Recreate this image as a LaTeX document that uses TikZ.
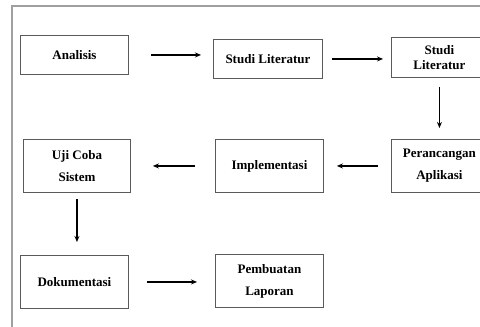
\documentclass[tikz,border=0pt]{standalone}
\usepackage{fontspec}
\setmainfont{Liberation Serif}
\usetikzlibrary{arrows.meta}
\definecolor{boxline}{HTML}{5A5A5A}
\definecolor{frameline}{HTML}{A0A0A0}
\tikzset{
  px/.style={x=1pt,y=-1pt},
  stepbox/.style={draw=boxline, line width=0.9pt, inner sep=0pt, anchor=north west,
    font=\fontsize{13}{22}\selectfont\bfseries, align=center},
  tightbox/.style={stepbox, font=\fontsize{13}{15}\selectfont\bfseries},
  arr/.style={draw=black, line width=1.3pt, -{Stealth[length=6pt,width=5pt]}},
}
\begin{document}
\begin{tikzpicture}[px]
\useasboundingbox (0,0) rectangle (480,327);
\clip (0,0) rectangle (480,327);
\fill[white] (0,0) rectangle (480,327);
\draw[frameline, line width=1.5pt] (12,6) rectangle (500,345);
\node[stepbox, minimum width=108pt, minimum height=39pt] (ana) at (20,35) {Analisis};
\node[stepbox, minimum width=109pt, minimum height=39pt] (sl1) at (213,39) {Studi Literatur};
\node[tightbox, minimum width=96pt, minimum height=40pt] (sl2) at (391,37) {Studi\\Literatur};
\node[stepbox, minimum width=96pt, minimum height=53pt] (per) at (391,139) {Perancangan\\Aplikasi};
\node[stepbox, minimum width=108pt, minimum height=53pt] (imp) at (215,139) {Implementasi};
\node[stepbox, minimum width=107pt, minimum height=53pt] (uji) at (23,139) {Uji Coba\\Sistem};
\node[stepbox, minimum width=108pt, minimum height=53pt] (dok) at (20,255) {Dokumentasi};
\node[stepbox, minimum width=108pt, minimum height=53pt] (pem) at (215,254) {Pembuatan\\Laporan};
\draw[arr, shorten <=22pt, shorten >=12pt] (ana.east) -- (ana.east -| sl1.west);
\draw[arr, shorten <=9pt, shorten >=8pt] (sl1.east) -- (sl1.east -| sl2.west);
\draw[arr, shorten <=9pt, shorten >=11pt] (sl2.south) -- (per.north);
\draw[arr, shorten <=13pt, shorten >=13pt] (per.west) -- (per.west -| imp.east);
\draw[arr, shorten <=20pt, shorten >=22pt] (imp.west) -- (imp.west -| uji.east);
\draw[arr, shorten <=6pt, shorten >=13pt] (uji.south) -- (uji.south |- dok.north);
\draw[arr, shorten <=18pt, shorten >=18pt] (dok.east) -- (dok.east -| pem.west);
\end{tikzpicture}
\end{document}
